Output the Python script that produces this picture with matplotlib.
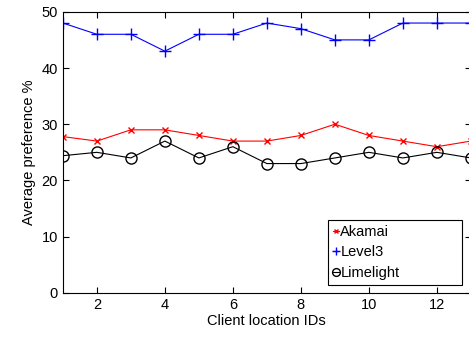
import numpy as np
import matplotlib.pyplot as plt

plt.rcParams['font.family'] = ['Liberation Sans', 'DejaVu Sans']

# Client location IDs and average preference (%)
ids = np.arange(1, 14)
akamai = [27.8, 27, 29, 29, 28, 27, 27, 28, 30, 28, 27, 26, 27]
level3 = [48, 46, 46, 43, 46, 46, 48, 47, 45, 45, 48, 48, 48]
limelight = [24.4, 25, 24, 27, 24, 26, 23, 23, 24, 25, 24, 25, 24]

fig = plt.figure(figsize=(4.69, 3.37), dpi=100)
ax = fig.add_axes([0.134, 0.131, 0.870, 0.834])

ax.plot(ids, akamai, color='red', marker='x', markersize=5, linewidth=0.8, label='Akamai')
ax.plot(ids, level3, color='blue', marker='+', markersize=8, linewidth=0.8, label='Level3')
ax.plot(ids, limelight, color='black', marker='o', markersize=8, markerfacecolor='none',
        linewidth=0.8, label='Limelight')

ax.set_xlim(1, 13)
ax.set_ylim(0, 50)
ax.set_xticks([2, 4, 6, 8, 10, 12])
ax.set_yticks([0, 10, 20, 30, 40, 50])
ax.tick_params(direction='in', top=True, right=True, labelsize=10.5, length=4)
ax.set_xlabel('Client location IDs', fontsize=10.5, labelpad=2)
ax.set_ylabel('Average preference %', fontsize=10.5, labelpad=4)

# matlab-style legend: wide box, tiny handles
leg = ax.legend(loc='lower left', bbox_to_anchor=(0.650, 0.028, 0.328, 0.228), mode='expand',
                fontsize=10.5, handlelength=0.4, handletextpad=0.1, borderpad=0.35,
                labelspacing=0.45, borderaxespad=0, fancybox=False, framealpha=1,
                edgecolor='black', markerscale=0.7)
leg.get_frame().set_linewidth(0.8)

fig.savefig('out.png', dpi=100)
